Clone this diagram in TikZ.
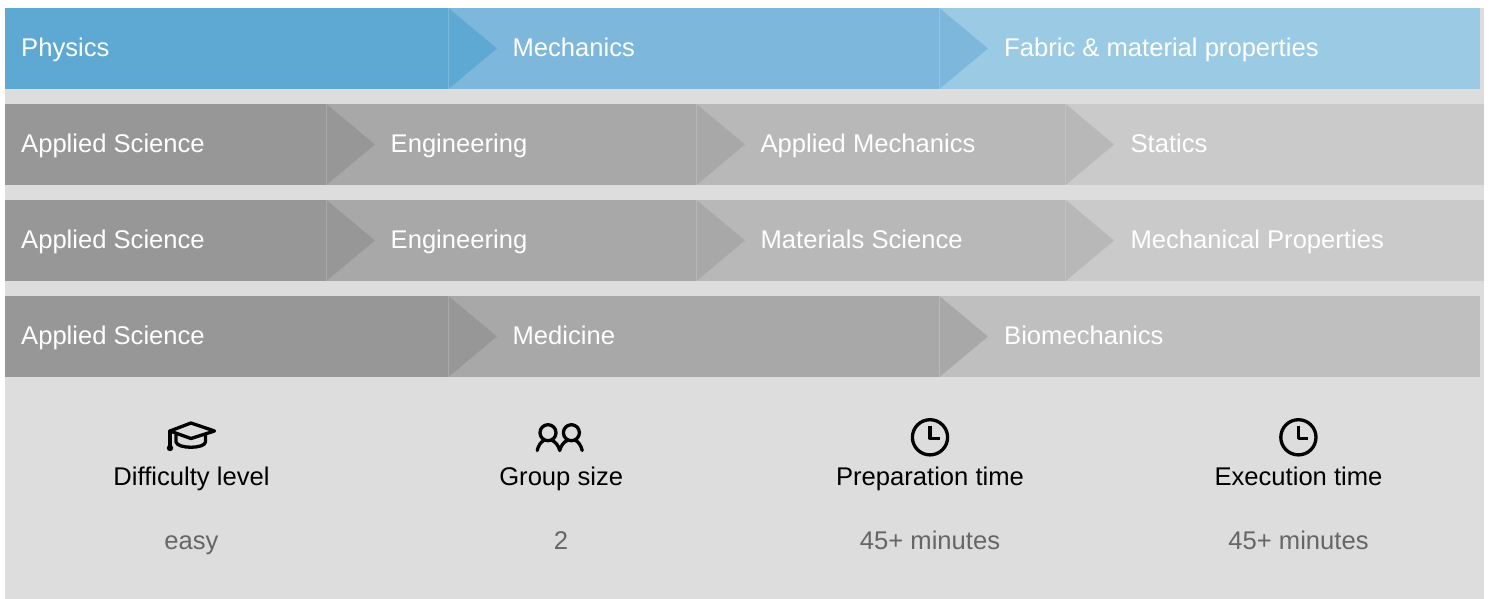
\documentclass[tikz,border=0pt]{standalone}
\usepackage{fontspec}
\setmainfont{Liberation Sans}
\definecolor{panelgrey}{HTML}{DDDDDD}
\definecolor{blueA}{HTML}{5DA9D3}
\definecolor{blueB}{HTML}{7DB8DC}
\definecolor{blueC}{HTML}{9BCBE4}
\definecolor{greyA}{HTML}{979797}
\definecolor{greyB}{HTML}{A8A8A8}
\definecolor{greyC}{HTML}{B8B8B8}
\definecolor{greyD}{HTML}{CACACA}
\definecolor{greyE}{HTML}{BFBFBF}
\tikzset{
  crumb/.style={anchor=base west,text=white,font=\fontsize{25.6}{30}\selectfont,inner sep=0pt},
  infotitle/.style={anchor=base,text=black,font=\fontsize{25.6}{30}\selectfont,inner sep=0pt},
  infovalue/.style={anchor=base,text=black!60,font=\fontsize{25.6}{30}\selectfont,inner sep=0pt},
  icon/.style={draw=black,line width=3.3pt,line cap=round,line join=round,fill=none}
}
% \seg{x0}{x1}{ytop}{fill}{previous fill}: band segment with its chevron
\newcommand{\seg}[5]{%
  \fill[#4] (#1,#3) rectangle (#2,#3+81);
  \fill[#5] (#1,#3) -- (#1+48.5,#3+40.5) -- (#1,#3+81) -- cycle;
  \draw[white,opacity=.12,line width=1pt] (#1,#3) -- (#1,#3+81);
}
\begin{document}
\begin{tikzpicture}[x=1pt,y=-1pt]
\useasboundingbox (0,0) rectangle (1492,599);
\fill[white] (0,0) rectangle (1492,599);
\fill[panelgrey] (5,8) rectangle (1484,599);
% row 1
\fill[blueA] (5,8) rectangle (448.4,89);
\seg{448.4}{939.4}{8}{blueB}{blueA}
\seg{939.4}{1480}{8}{blueC}{blueB}
% row 2
\fill[greyA] (5,104) rectangle (326.4,185);
\seg{326.4}{696.4}{104}{greyB}{greyA}
\seg{696.4}{1065.6}{104}{greyC}{greyB}
\seg{1065.6}{1484}{104}{greyD}{greyC}
% row 3
\fill[greyA] (5,200) rectangle (326.4,281);
\seg{326.4}{696.4}{200}{greyB}{greyA}
\seg{696.4}{1065.6}{200}{greyC}{greyB}
\seg{1065.6}{1484}{200}{greyD}{greyC}
% row 4
\fill[greyA] (5,296) rectangle (448.4,377);
\seg{448.4}{939.4}{296}{greyB}{greyA}
\seg{939.4}{1480}{296}{greyE}{greyB}
% labels
\node[crumb] (r1a) at (21,56.6) {Physics};
\node[crumb] (r1b) at (512.4,56.6) {Mechanics};
\node[crumb] (r1c) at (1004,56.6) {Fabric \& material properties};
\node[crumb] (r2a) at (21,152.6) {Applied Science};
\node[crumb] (r2b) at (390.5,152.6) {Engineering};
\node[crumb] (r2c) at (760.4,152.6) {Applied Mechanics};
\node[crumb] (r2d) at (1130.4,152.6) {Statics};
\node[crumb] (r3a) at (21,248) {Applied Science};
\node[crumb] (r3b) at (390.5,248) {Engineering};
\node[crumb] (r3c) at (760.4,248) {Materials Science};
\node[crumb] (r3d) at (1130.4,248) {Mechanical Properties};
\node[crumb] (r4a) at (21,344) {Applied Science};
\node[crumb] (r4b) at (512.4,344) {Medicine};
\node[crumb] (r4c) at (1004,344) {Biomechanics};
% info titles and values
\node[infotitle] (t1) at (191.5,485) {Difficulty level};
\node[infotitle] (t2) at (561.2,485) {Group size};
\node[infotitle] (t3) at (930,485) {Preparation time};
\node[infotitle] (t4) at (1298.5,485) {Execution time};
\node[infovalue] (v1) at (191.5,549) {easy};
\node[infovalue] (v2) at (561,549) {2};
\node[infovalue] (v3) at (930,549) {45+ minutes};
\node[infovalue] (v4) at (1298.5,549) {45+ minutes};
% graduation cap
\draw[icon] (191,423) -- (214.5,431) -- (191,438.5) -- (170,431) -- cycle;
\draw[icon] (176,435) -- (176,442) .. controls (177.5,449) and (204.5,449) .. (205.5,442) -- (205.5,435);
\draw[icon] (170,431) -- (170,447);
\fill[black] (170,448) circle (3.2);
% group
\draw[icon] (548,432.7) circle (8);
\draw[icon] (571.4,432.7) circle (8);
\draw[icon] (537.2,450.5) .. controls (538.2,446) and (540.7,442) .. (543.7,440.5);
\draw[icon] (552.2,440.5) .. controls (555.7,442) and (558.7,446) .. (559.7,450.5) .. controls (560.7,446) and (563.7,442) .. (567.2,440.5);
\draw[icon] (575.7,440.5) .. controls (578.7,442) and (581.2,446) .. (582.2,450.5);
% clocks
\draw[icon] (930,437.3) circle (17.6);
\draw[icon,line cap=butt] (930,425.5) -- (930,438.2) -- (939.5,438.2);
\draw[icon] (1298.4,437.3) circle (17.6);
\draw[icon,line cap=butt] (1298.4,425.5) -- (1298.4,438.2) -- (1307.9,438.2);
\end{tikzpicture}
\end{document}
